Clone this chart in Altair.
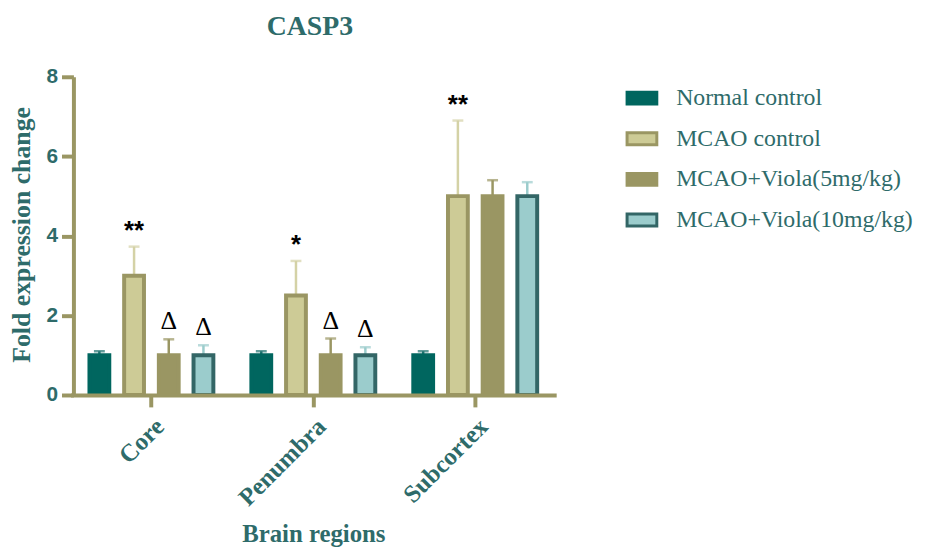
import altair as alt
import pandas as pd

regions = ["Core", "Penumbra", "Subcortex"]
groups = ["Normal control", "MCAO control", "MCAO+Viola(5mg/kg)", "MCAO+Viola(10mg/kg)"]

means = {
    "Core": [1.0, 3.0, 1.0, 1.0],
    "Penumbra": [1.0, 2.5, 1.0, 1.0],
    "Subcortex": [1.0, 5.0, 5.0, 5.0],
}
errors = {
    "Core": [0.1, 0.73, 0.4, 0.25],
    "Penumbra": [0.1, 0.87, 0.42, 0.2],
    "Subcortex": [0.1, 1.9, 0.4, 0.35],
}
signs = {
    "Core": ["", "**", "Δ", "Δ"],
    "Penumbra": ["", "*", "Δ", "Δ"],
    "Subcortex": ["", "**", "", ""],
}

fills = ["#00665F", "#CDCB96", "#9A9663", "#9BCCCC"]
strokes = ["#00665F", "#9A9663", "#9A9663", "#336666"]
errcols = ["#1F7370", "#D4D2A6", "#9A9663", "#9BCCCC"]

TEAL = "#2E6B6A"
OLIVE = "#9A9663"

rows = []
for r in regions:
    for i, g in enumerate(groups):
        m = means[r][i]
        e = errors[r][i]
        rows.append({
            "region": r, "group": g, "mean": m, "top": m + e,
            "sign": signs[r][i], "errcol": errcols[i],
        })
df = pd.DataFrame(rows)

legend = alt.Legend(
    title=None, orient="none", legendX=557, legendY=5,
    symbolType="M-1,-0.4H1V0.4H-1Z", symbolSize=900, symbolStrokeWidth=3,
    labelFont="Liberation Serif", labelFontSize=24, labelColor=TEAL,
    labelOffset=18, rowPadding=12, padding=0, labelLimit=400,
)

x_enc = alt.X(
    "region:N", sort=regions,
    scale=alt.Scale(range=[-3, 487], paddingInner=0, paddingOuter=0),
    axis=alt.Axis(
        title="Brain regions", labelAngle=-45, zindex=1,
        domainColor=OLIVE, domainWidth=4, tickColor=OLIVE, tickWidth=4, tickSize=12,
        labelFont="Liberation Serif", labelFontWeight="bold", labelFontSize=25,
        labelColor=TEAL, labelPadding=7,
        titleFont="Liberation Serif", titleFontWeight="bold", titleFontSize=25,
        titleColor=TEAL, titleY=148, titleBaseline="alphabetic",
    ),
)
xoff = alt.XOffset("group:N", sort=groups,
                   scale=alt.Scale(paddingInner=0.4286, paddingOuter=0.548))
yscale = alt.Scale(domain=[0, 8], nice=False)
yaxis = alt.Axis(
    title="Fold expression change", values=[0, 2, 4, 6, 8], grid=False,
    domainColor=OLIVE, domainWidth=4, tickColor=OLIVE, tickWidth=4, tickSize=12,
    labelFont="Liberation Sans", labelFontWeight="bold", labelFontSize=21,
    labelColor=TEAL, labelPadding=4,
    titleFont="Liberation Serif", titleFontWeight="bold", titleFontSize=26,
    titleColor=TEAL, titleX=-52, titleY=159, titleBaseline="middle",
)

base = alt.Chart(df).encode(x=x_enc, xOffset=xoff)

bars = base.mark_bar(strokeWidth=4).encode(
    y=alt.Y("mean:Q", scale=yscale, axis=yaxis),
    fill=alt.Fill("group:N", sort=groups,
                  scale=alt.Scale(domain=groups, range=fills), legend=legend),
    stroke=alt.Stroke("group:N", sort=groups,
                      scale=alt.Scale(domain=groups, range=strokes), legend=legend),
)

rules = base.mark_rule(strokeWidth=2.5).encode(
    y=alt.Y("mean:Q", scale=yscale, axis=yaxis),
    y2="top:Q",
    color=alt.Color("errcol:N", scale=None),
)
caps = base.mark_tick(size=11, thickness=2.5).encode(
    y=alt.Y("top:Q", scale=yscale, axis=yaxis),
    color=alt.Color("errcol:N", scale=None),
)
stars = base.mark_text(dy=-16, fontSize=26, font="Liberation Sans",
                       fontWeight="bold", color="black", baseline="middle").encode(
    y=alt.Y("top:Q", scale=yscale, axis=yaxis),
    text="sign:N",
).transform_filter("indexof(datum.sign, '*') >= 0")
deltas = base.mark_text(dy=-18, fontSize=26, font="Liberation Serif",
                        color="black", baseline="middle").encode(
    y=alt.Y("top:Q", scale=yscale, axis=yaxis),
    text="sign:N",
).transform_filter("datum.sign == 'Δ'")

chart = alt.layer(rules, caps, bars, stars, deltas).properties(
    width=485, height=321,
    autosize=alt.AutoSizeParams(type="none"),
    padding={"left": 66, "top": 67, "right": 369, "bottom": 156},
    title=alt.TitleParams("CASP3", font="Liberation Serif", fontSize=28,
                          fontWeight="bold", color=TEAL, frame="group",
                          offset=25, anchor="middle", dx=-4),
).configure_view(stroke=None)

chart.save("out.html", embed_options={"renderer": "svg", "actions": False})
